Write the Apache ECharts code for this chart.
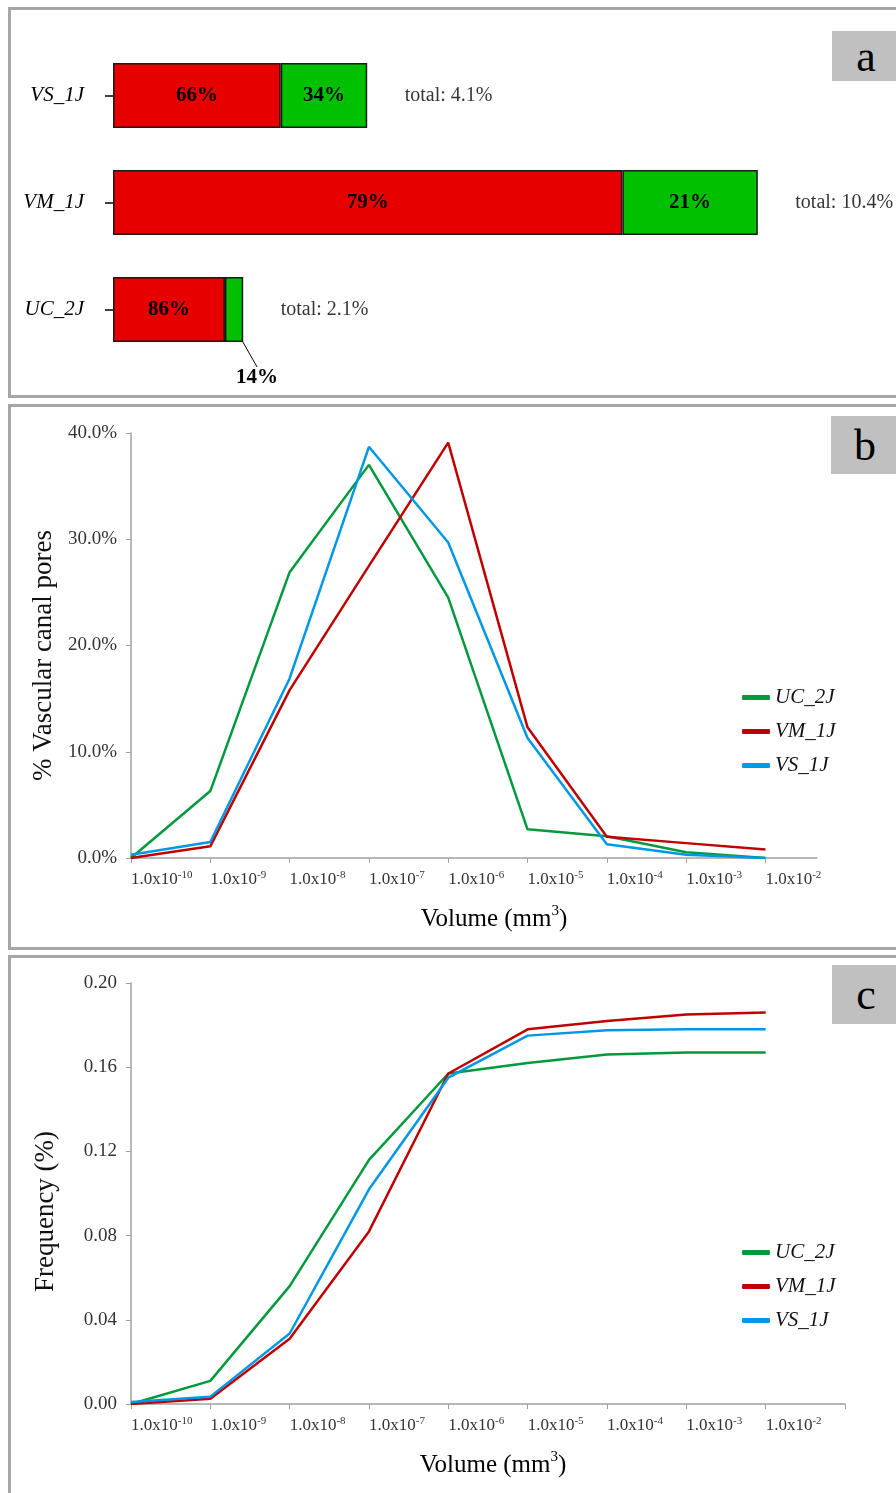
<!DOCTYPE html>
<html>
<head>
<meta charset="utf-8">
<script src="https://cdn.jsdelivr.net/npm/echarts@6/dist/echarts.min.js"></script>
<style>
  html, body { margin: 0; width: 896px; height: 1493px; overflow: hidden; background: #fff; }
  .panel { position: absolute; border: 3px solid #a6a6a6; box-sizing: border-box; }
  .tag {
    position: absolute; width: 68px; background: #c0c0c0;
    font-family: 'Liberation Serif', serif; font-size: 44px; color: #000;
    display: flex; align-items: center; justify-content: center;
  }
  #chart { position: absolute; left: 0; top: 0; width: 896px; height: 1493px; }
</style>
</head>
<body>
  <!--三个面板的边框和字母标签-->
  <div class="panel" style="left:8px; top:7px; width:900px; height:391px;"></div>
  <div class="panel" style="left:8px; top:404px; width:900px; height:546px;"></div>
  <div class="panel" style="left:8px; top:955px; width:900px; height:560px;"></div>
  <div class="tag" style="left:832px; top:31px; height:50px;">a</div>
  <div class="tag" style="left:831px; top:416px; height:58px;">b</div>
  <div class="tag" style="left:832px; top:965px; height:59px;">c</div>
  <div id="chart"></div>
<script>
// panel a
var categories = ['VS_1J', 'VM_1J', 'UC_2J']
var totals = [4.1, 10.4, 2.1]
var redPct = [66, 79, 86]
var greenPct = [34, 21, 14]

// panels b, c : x = exponent of volume (mm3)
var volumeExp = [-10, -9, -8, -7, -6, -5, -4, -3, -2]
var seriesNames = ['UC_2J', 'VM_1J', 'VS_1J']
var poresUC = [0, 6.3, 26.9, 37.0, 24.5, 2.7, 2.05, 0.55, 0]
var poresVM = [0, 1.1, 15.8, 27.5, 39.1, 12.3, 2.0, 1.4, 0.8]
var poresVS = [0.3, 1.5, 16.9, 38.7, 29.7, 11.3, 1.3, 0.3, 0]
var freqUC = [0, 0.011, 0.056, 0.116, 0.157, 0.162, 0.166, 0.167, 0.167]
var freqVM = [0, 0.0025, 0.031, 0.082, 0.157, 0.178, 0.182, 0.185, 0.186]
var freqVS = [0.001, 0.0035, 0.0335, 0.102, 0.155, 0.175, 0.1775, 0.178, 0.178]
var freqTicks = [-10, -9, -8, -7, -6, -5, -4, -3, -2, -1]

var lineColors = ['#009a3c', '#c00000', '#0098e6']
var serif = 'Liberation Serif'
var axisGray = '#a0a0a0'

function pairs(values) {
  return volumeExp.map(function (e, i) { return [e, values[i]] })
}

function expLabel(v) {
  return '{a|1.0x10}{s|' + v + '}'
}

var labelRich = {
  a: { fontFamily: serif, fontSize: 17, color: '#333', lineHeight: 20 },
  s: { fontFamily: serif, fontSize: 11, color: '#333', verticalAlign: 'top', lineHeight: 12 }
}
var nameRich = {
  n: { fontFamily: serif, fontSize: 25, color: '#000', lineHeight: 30 },
  sup: { fontFamily: serif, fontSize: 15, color: '#000', verticalAlign: 'top', lineHeight: 16 }
}

function volumeAxis(grid, max, ticks, shift) {
  return {
    type: 'value', gridIndex: grid, min: -10, max: max,
    axisLine: { show: true, lineStyle: { color: axisGray, width: 1.5 } },
    axisTick: { show: true, customValues: ticks, length: 5, lineStyle: { color: axisGray } },
    axisLabel: { customValues: volumeExp, formatter: expLabel, align: 'left', margin: 12, rich: labelRich },
    splitLine: { show: false },
    name: '{n|Volume (mm}{sup|3}{n|)}',
    nameLocation: 'middle',
    nameGap: 46,
    nameTextStyle: { rich: nameRich, padding: [0, 0, 0, shift] }
  }
}

function valueAxis(grid, max, interval, digits, suffix, title, shift) {
  return {
    type: 'value', gridIndex: grid, min: 0, max: max, interval: interval,
    axisLine: { show: true, lineStyle: { color: axisGray, width: 1.5 } },
    axisTick: { show: true, length: 5, lineStyle: { color: axisGray } },
    axisLabel: {
      margin: 14, fontFamily: serif, fontSize: 19, color: '#333',
      formatter: function (v) { return v.toFixed(digits) + suffix }
    },
    splitLine: { show: false },
    name: title,
    nameLocation: 'middle',
    nameGap: 72,
    nameTextStyle: { fontFamily: serif, fontSize: 27, color: '#111', padding: [0, shift, 0, 0] }
  }
}

function lineSeries(name, values, axis, color) {
  return {
    name: name, type: 'line', xAxisIndex: axis, yAxisIndex: axis,
    data: pairs(values), symbol: 'none',
    lineStyle: { width: 2.5, color: color }, itemStyle: { color: color }
  }
}

function legendAt(top) {
  return {
    data: seriesNames, orient: 'vertical', left: 737, top: top,
    icon: 'roundRect', itemWidth: 28, itemHeight: 5, itemGap: 13,
    textStyle: { fontFamily: serif, fontStyle: 'italic', fontSize: 21, color: '#111' }
  }
}

var chart = echarts.init(document.getElementById('chart'))
chart.setOption({
  animation: false,
  textStyle: { fontFamily: serif },
  grid: [
    { left: 113, top: 42, width: 744, height: 321 },
    { left: 131, top: 433, width: 686, height: 425 },
    { left: 131, top: 983, width: 714, height: 421 }
  ],
  legend: [legendAt(682), legendAt(1237)],
  xAxis: [
    { type: 'value', gridIndex: 0, min: 0, max: 12, show: false },
    volumeAxis(1, -1.35, volumeExp, 40),
    volumeAxis(2, -1, freqTicks, 10)
  ],
  yAxis: [
    {
      type: 'category', gridIndex: 0, data: categories, inverse: true,
      axisLine: { show: false },
      axisTick: { show: true, alignWithLabel: true, length: 8, lineStyle: { color: '#000', width: 1.5 } },
      axisLabel: { margin: 29, fontFamily: serif, fontStyle: 'italic', fontSize: 21, color: '#000' }
    },
    valueAxis(1, 40, 10, 1, '%', '% Vascular canal pores', 20),
    valueAxis(2, 0.2, 0.04, 2, '', 'Frequency (%)', 36)
  ],
  series: [
    {
      type: 'bar', stack: 'a', barWidth: 65,
      data: totals.map(function (t, i) { return t * redPct[i] / 100 }),
      itemStyle: { color: '#e60000', borderColor: '#1a1a1a', borderWidth: 1.5 },
      label: {
        show: true, position: 'inside', fontFamily: serif, fontWeight: 'bold', fontSize: 21, color: '#000',
        formatter: function (p) { return redPct[p.dataIndex] + '%' }
      }
    },
    {
      type: 'bar', stack: 'a', barWidth: 65,
      data: totals.map(function (t, i) {
        var item = { value: t * greenPct[i] / 100 }
        // 最小的一段标签放到下面，用引线指向
        if (i === 2) item.labelLine = { show: true, lineStyle: { color: '#000', width: 1 } }
        return item
      }),
      itemStyle: { color: '#00c000', borderColor: '#1a1a1a', borderWidth: 1.5 },
      label: {
        show: true, position: 'inside', fontFamily: serif, fontWeight: 'bold', fontSize: 21, color: '#000',
        formatter: function (p) { return greenPct[p.dataIndex] + '%' }
      },
      labelLayout: function (p) {
        if (p.dataIndex === 2) return { dx: 23, dy: 68 }
        return {}
      }
    },
    {
      type: 'scatter', xAxisIndex: 0, yAxisIndex: 0, symbolSize: 1,
      data: totals.map(function (t, i) { return [t, i] }),
      itemStyle: { color: 'rgba(0,0,0,0)' },
      label: {
        show: true, position: 'right', distance: 37, fontFamily: serif, fontSize: 20, color: '#000',
        formatter: function (p) { return 'total: ' + p.value[0] + '%' }
      }
    },
    lineSeries('UC_2J', poresUC, 1, lineColors[0]),
    lineSeries('VM_1J', poresVM, 1, lineColors[1]),
    lineSeries('VS_1J', poresVS, 1, lineColors[2]),
    lineSeries('UC_2J', freqUC, 2, lineColors[0]),
    lineSeries('VM_1J', freqVM, 2, lineColors[1]),
    lineSeries('VS_1J', freqVS, 2, lineColors[2])
  ]
})
</script>
</body>
</html>
